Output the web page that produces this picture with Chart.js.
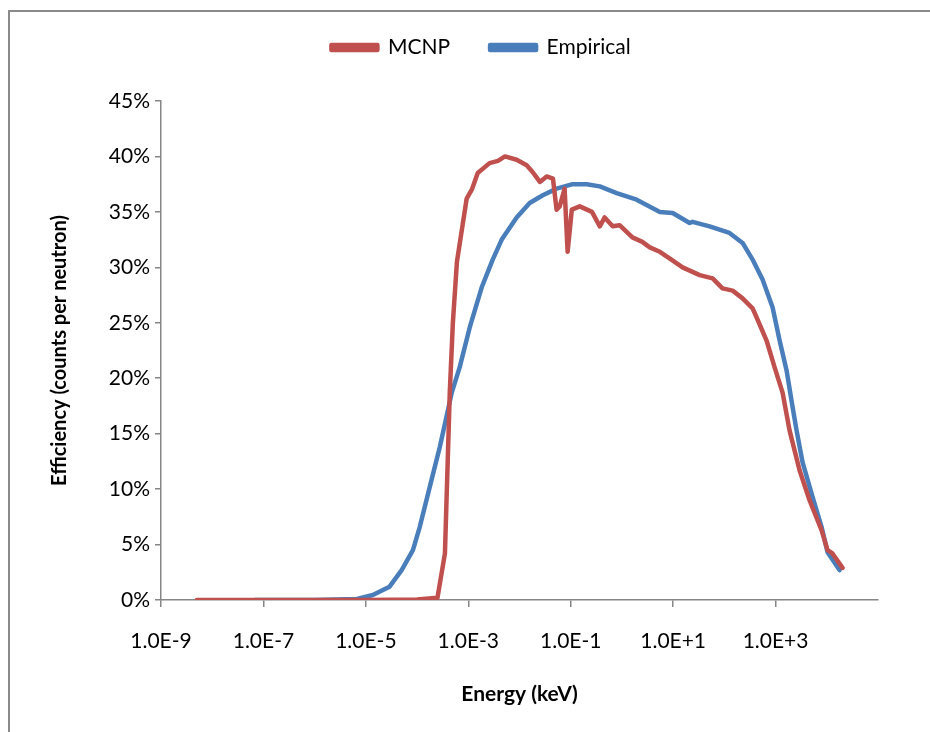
<!DOCTYPE html>
<html>
<head>
<meta charset="utf-8">
<script src="https://cdn.jsdelivr.net/npm/chart.js@4/dist/chart.umd.min.js"></script>
<style>
  body { margin: 0; background: #fff; overflow: hidden; }
  #wrap { position: relative; width: 930px; height: 732px; }
  #frame { position: absolute; left: 8px; top: 10px; width: 940px; height: 740px; border: 2px solid #8a8a8a; box-sizing: border-box; }
  canvas { position: absolute; left: 0; top: 0; }
</style>
</head>
<body>
<div id="wrap">
  <div id="frame"></div>
  <canvas id="chart" width="930" height="732"></canvas>
</div>
<script>
// energies in keV, efficiency in %
var mcnpEnergy = [5.0e-9, 1e-8, 1e-7, 1e-6, 1e-5, 1e-4, 2.5e-4, 3.5e-4, 4.35e-4, 5.0e-4, 6.0e-4, 7.5e-4, 9.3e-4,
    1.17e-3, 1.53e-3, 2.6e-3, 3.8e-3, 5.2e-3, 8.8e-3, 1.38e-2, 1.8e-2, 2.5e-2, 3.4e-2, 4.5e-2, 5.3e-2, 6.1e-2,
    7.6e-2, 8.7e-2, 0.105, 0.15, 0.26, 0.37, 0.46, 0.66, 0.9, 1.6, 2.5, 3.5, 5.5, 8.5, 15.3, 33, 59, 92, 145,
    227, 356, 425, 667, 955, 1370, 1875, 2940, 4600, 7900, 10350, 12900, 20300];
var mcnpEff = [0, 0, 0, 0, 0, 0.05, 0.2, 4.2, 18.7, 25, 30.5, 33.4, 36.2,
    37, 38.5, 39.4, 39.6, 40, 39.7, 39.2, 38.6, 37.7, 38.2, 38, 35.2, 35.5,
    37.1, 31.4, 35.2, 35.5, 35, 33.7, 34.5, 33.7, 33.8, 32.7, 32.3, 31.8, 31.4, 30.8, 30, 29.3, 29, 28.1, 27.9,
    27.2, 26.3, 25.5, 23.4, 21, 18.7, 15.3, 11.7, 9, 6.3, 4.5, 4.2, 2.9];

var empEnergy = [6.8e-8, 1e-7, 1e-6, 6.7e-6, 1.37e-5, 2.9e-5, 5.0e-5, 8.3e-5, 1.13e-4, 1.77e-4, 2.78e-4,
    4.76e-4, 6.8e-4, 1.07e-3, 1.83e-3, 3.0e-3, 4.5e-3, 8.8e-3, 1.58e-2, 2.85e-2, 5.3e-2, 0.109, 0.205, 0.37,
    0.79, 1.94, 5.5, 9.8, 21, 24, 51.5, 126, 227, 356, 557, 873, 1200, 1640, 2150, 2570, 3370, 5270, 7900,
    10350, 17700];
var empEff = [0, 0, 0, 0.1, 0.45, 1.2, 2.7, 4.5, 6.6, 10.2, 13.8,
    18.7, 21, 24.6, 28.2, 30.7, 32.5, 34.5, 35.8, 36.5, 37.1, 37.5, 37.5, 37.3,
    36.7, 36.1, 35, 34.9, 34.0, 34.1, 33.7, 33.1, 32.2, 30.7, 28.9, 26.4, 23.4, 20.7, 17.4, 15.3, 12.4, 9.3, 6.6,
    4.3, 2.7];

var xTicks = [1e-9, 1e-7, 1e-5, 1e-3, 1e-1, 1e1, 1e3];

function toPoints(xs, ys) {
    var pts = [];
    for (var i = 0; i < xs.length; i++) pts.push({ x: xs[i], y: ys[i] });
    return pts;
}

var axisColor = '#868686';
var fontFamily = 'Lato, "Open Sans", sans-serif';

// keep the legend where Excel put it: a bit higher and right of the default
var legendNudge = {
    id: 'legendNudge',
    afterLayout: function(chart) {
        var lg = chart.legend;
        lg.top -= 33; lg.bottom -= 33;
        lg.left += 22; lg.right += 22;
    }
};

var ctx = document.getElementById('chart').getContext('2d');
new Chart(ctx, {
    type: 'line',
    data: {
        datasets: [{
            label: 'MCNP',
            data: toPoints(mcnpEnergy, mcnpEff),
            borderColor: '#C0504D',
            backgroundColor: '#C0504D',
            borderWidth: 4.5,
            pointRadius: 0,
            tension: 0,
            borderJoinStyle: 'round',
            borderCapStyle: 'round'
        }, {
            label: 'Empirical',
            data: toPoints(empEnergy, empEff),
            borderColor: '#4A7EBB',
            backgroundColor: '#4A7EBB',
            borderWidth: 4.5,
            pointRadius: 0,
            tension: 0,
            borderJoinStyle: 'round',
            borderCapStyle: 'round'
        }]
    },
    plugins: [legendNudge],
    options: {
        responsive: false,
        animation: false,
        layout: { padding: { left: 40, right: 52, top: 30, bottom: 12 } },
        plugins: {
            tooltip: { enabled: false },
            legend: {
                position: 'top',
                labels: {
                    boxWidth: 46,
                    boxHeight: 5,
                    padding: 40,
                    color: '#000',
                    font: { family: fontFamily, size: 21 }
                }
            }
        },
        scales: {
            x: {
                type: 'logarithmic',
                min: 1e-9,
                max: 1e5,
                afterBuildTicks: function(scale) {
                    scale.ticks = xTicks.map(function(v) { return { value: v }; });
                },
                afterFit: function(scale) { scale.height = 732 - 600 - 12; },
                border: { display: true, color: axisColor, width: 1.5 },
                grid: { display: true, drawOnChartArea: false, drawTicks: true, tickLength: 7, color: axisColor, lineWidth: 1.5 },
                ticks: {
                    autoSkip: false,
                    maxRotation: 0,
                    padding: 22,
                    color: '#000',
                    font: { family: fontFamily, size: 21 },
                    callback: function(value) { return Number(value).toExponential(1).toUpperCase(); }
                },
                title: {
                    display: true,
                    text: 'Energy (keV)',
                    color: '#000',
                    padding: { top: 0, bottom: 13 },
                    font: { family: fontFamily, size: 21, weight: 'bold' }
                }
            },
            y: {
                min: 0,
                max: 45,
                afterFit: function(scale) { scale.width = 161 - 40; },
                border: { display: true, color: axisColor, width: 1.5 },
                grid: { display: true, drawOnChartArea: false, drawTicks: true, tickLength: 6, color: axisColor, lineWidth: 1.5 },
                ticks: {
                    stepSize: 5,
                    padding: 5,
                    color: '#000',
                    font: { family: fontFamily, size: 21 },
                    callback: function(value) { return value + '%'; }
                },
                title: {
                    display: true,
                    text: 'Efficiency (counts per neutron)',
                    color: '#000',
                    padding: { top: 8, bottom: 0 },
                    font: { family: fontFamily, size: 20, weight: 'bold' }
                }
            }
        }
    }
});
</script>
</body>
</html>
